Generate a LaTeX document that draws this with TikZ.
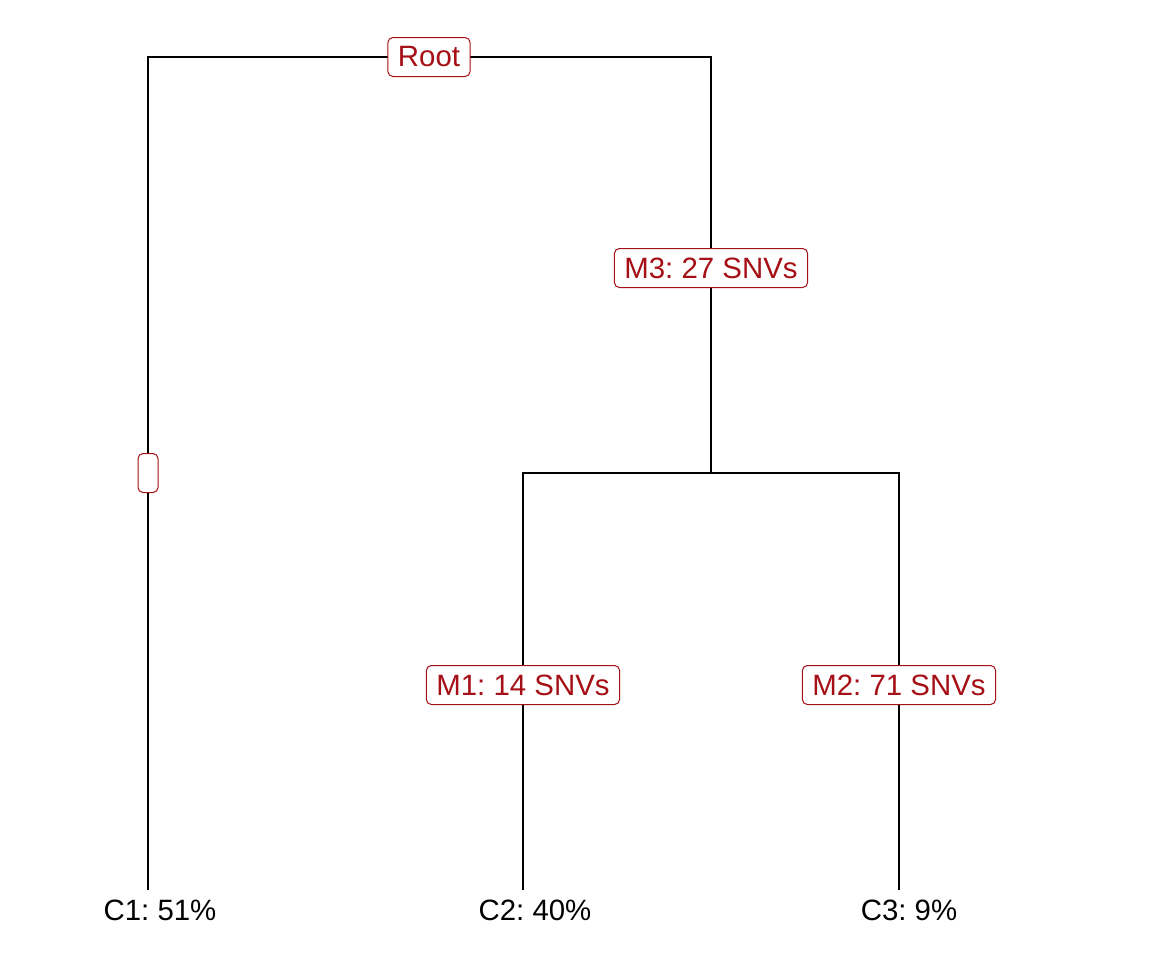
\documentclass[tikz,border=0pt]{standalone}
\usepackage{fontspec}
\setmainfont{Liberation Sans}
\usepackage{tikz}
\definecolor{tred}{HTML}{A50F15}
\frenchspacing

\begin{document}
\begin{tikzpicture}[x=0.5pt, y=-0.5pt]
  \useasboundingbox (0,0) rectangle (1152,960);
  \tikzset{
    edge/.style={black, line width=1.1pt},
    mut/.style={draw=tred, text=tred, fill=white, rounded corners=2.5pt,
      line width=0.5pt, font=\fontsize{14.7}{17}\selectfont,
      inner xsep=5pt, inner ysep=0pt, minimum height=19.5pt},
    leaf/.style={font=\fontsize{14.7}{17}\selectfont}
  }
  % Branch points
  \coordinate (r1) at (148,57);
  \coordinate (r2) at (711,57);
  \coordinate (s) at (711,473);
  \coordinate (s1) at (523,473);
  \coordinate (s2) at (899,473);
  \coordinate (c1) at (148,890);
  \coordinate (c2) at (523,890);
  \coordinate (c3) at (899,890);
  % Tree edges
  \draw[edge] (c1) -- (r1) -- (r2) -- (s);
  \draw[edge] (c2) -- (s1) -- (s2) -- (c3);
  % Mutation labels
  \node[mut] (root) at (429,57) {Root};
  \node[mut, minimum width=10pt, inner xsep=0pt] (m0) at (148,473) {};
  \node[mut] (m3) at (711,268) {M3: 27 SNVs};
  \node[mut] (m1) at (523,685) {M1: 14 SNVs};
  \node[mut] (m2) at (899,685) {M2: 71 SNVs};
  % Clone labels
  \node[leaf] (l1) at (160,910) {C1: 51\%};
  \node[leaf] (l2) at (535,910) {C2: 40\%};
  \node[leaf] (l3) at (909,910) {C3: 9\%};
\end{tikzpicture}
\end{document}
